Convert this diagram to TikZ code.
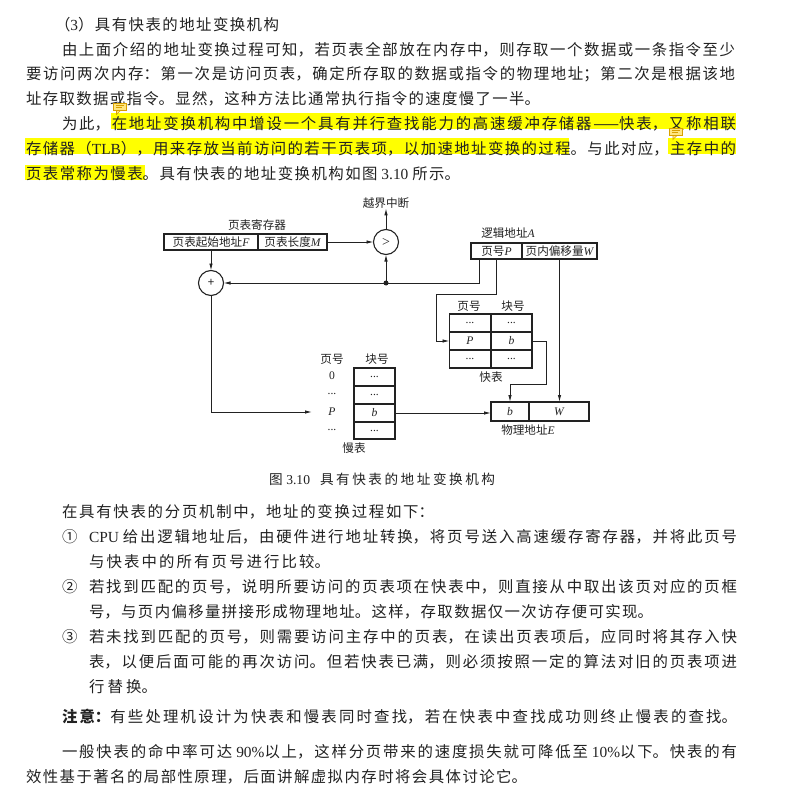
\documentclass[tikz,border=0pt]{standalone}
\usepackage{fontspec}
\usetikzlibrary{arrows.meta,calc}
\setmainfont{Noto Sans CJK SC}
\newfontfamily\latf{Liberation Serif}
\newcommand\lat[1]{{\latf #1}}
\newcommand\lit[1]{{\latf\itshape #1}}
\XeTeXlinebreaklocale "zh"
\XeTeXlinebreakskip=0pt plus 6pt
\definecolor{ink}{HTML}{222222}
\definecolor{hl}{HTML}{FFFF00}
\definecolor{bubfill}{HTML}{FFE680}
\definecolor{bubline}{HTML}{D8A000}
\tikzset{
  txt/.style={anchor=west,inner sep=0pt,outer sep=0pt,text=ink,yshift=-0.8pt,font=\fontsize{15.4}{18}\selectfont},
  lbl/.style={inner sep=0pt,outer sep=0pt,text=ink,font=\fontsize{11.6}{13}\selectfont},
  cell/.style={draw=ink,line width=1.1pt,inner sep=0pt,outer sep=0pt,text=ink,font=\fontsize{11.6}{13}\selectfont},
  tcell/.style={cell,minimum width=41pt,minimum height=18pt},
  rnd/.style={cell,circle,minimum size=25pt},
  conn/.style={draw=ink,line width=0.9pt},
  arr/.style={conn,-{Latex[length=7pt,width=3.5pt]}},
  mark hl/.style={fill=hl,draw=none},
  bubble/.style={fill=bubfill,draw=bubline,line width=0.6pt},
}
% name, x0, x1, y, text: one justified text line
\newcommand\tl[5]{\node[txt] (#1) at (#2,#4) {\parbox{\dimexpr#3pt-#2pt\relax}{\tolerance=10000\hbadness=10000\parindent=0pt\parfillskip=0pt #5}};}
\newcommand\bub[2]{\path[bubble] (#1-6.5,#2-5) rectangle (#1+6.5,#2+2.5);
  \path[bubble] (#1-3,#2+2.5) -- (#1-3,#2+6.5) -- (#1+1,#2+2.5) -- cycle;
  \draw[bubline,line width=0.5pt] (#1-4,#2-3) -- (#1+4,#2-3) (#1-4,#2-0.7) -- (#1+2,#2-0.7);}
\begin{document}
\begin{tikzpicture}[x=1pt,y=-1pt]
\useasboundingbox (0,0) rectangle (788,789);
\fill[white] (0,0) rectangle (788,789);
% highlights
\fill[mark hl] (111,113) rectangle (736,129);
\fill[mark hl] (25,138) rectangle (569,154);
\fill[mark hl] (668,138) rectangle (736,154);
\fill[mark hl] (25,165) rectangle (145,180);
% text above
\tl{a0}{55}{279}{24}{（\lat{3}）具有快表的地址变换机构}
\tl{a1}{62}{735}{49}{由上面介绍的地址变换过程可知，若页表全部放在内存中，则存取一个数据或一条指令至少}
\tl{a2}{26}{735}{73}{要访问两次内存：第一次是访问页表，确定所存取的数据或指令的物理地址；第二次是根据该地}
\tl{a3}{26}{540}{98}{址存取数据或指令。显然，这种方法比通常执行指令的速度慢了一半。}
\tl{a4}{62}{736}{123}{为此，在地址变换机构中增设一个具有并行查找能力的高速缓冲存储器——快表，又称相联}
\tl{a5}{26}{736}{148}{存储器（\lat{TLB}），用来存放当前访问的若干页表项，以加速地址变换的过程。与此对应，主存中的}
\tl{a6}{26}{460}{173}{页表常称为慢表。具有快表的地址变换机构如图 \lat{3.10} 所示。}
\bub{119.5}{108}
\bub{676}{133}
% register
\node[lbl] (regt) at (257,225) {页表寄存器};
\node[cell,minimum width=94pt,minimum height=16pt] (rF) at (211,242) {页表起始地址\lit{F}};
\node[cell,minimum width=69pt,minimum height=16pt] (rM) at (292.5,242) {页表长度\lit{M}};
\node[rnd,font=\fontsize{14}{14}\selectfont] (gt) at (386,242) {\lat{>}};
\node[rnd] (plus) at (211,283) {+};
\node[lbl] (over) at (386,203) {越界中断};
\node[circle,fill=ink,inner sep=0pt,minimum size=5pt] (jn) at (386,283) {};
% logical address
\node[lbl] (lat) at (508,233) {逻辑地址\lit{A}};
\node[cell,minimum width=51pt,minimum height=16pt] (pP) at (496.5,251) {页号\lit{P}};
\node[cell,minimum width=75pt,minimum height=16pt] (pW) at (559.5,251) {页内偏移量\lit{W}};
% fast table
\node[lbl] (qh1) at (469,306) {页号};
\node[lbl] (qh2) at (513,306) {块号};
\node[tcell] (q11) at (470,323) {\lat{...}};
\node[tcell] (q12) at (511.5,323) {\lat{...}};
\node[tcell] (qP) at (470,341) {\lit{P}};
\node[tcell] (qb) at (511.5,341) {\lit{b}};
\node[tcell] (q31) at (470,359) {\lat{...}};
\node[tcell] (q32) at (511.5,359) {\lat{...}};
\node[lbl] (qt) at (491,377) {快表};
% physical address
\node[cell,minimum width=38pt,minimum height=19pt] (eb) at (510,411.5) {\lit{b}};
\node[cell,minimum width=60pt,minimum height=19pt] (eW) at (559,411.5) {\lit{W}};
\node[lbl] (et) at (528,430) {物理地址\lit{E}};
% slow table
\node[lbl] (sh1) at (332,359) {页号};
\node[lbl] (sh2) at (377,359) {块号};
\node[lbl] (s0) at (332,376) {\lat{0}};
\node[lbl] (sd1) at (332,394) {\lat{...}};
\node[lbl,minimum width=40pt] (sP) at (332,412) {\lit{P}};
\node[lbl] (sd2) at (332,430) {\lat{...}};
\node[tcell,minimum height=18pt] (s1) at (374.5,377) {\lat{...}};
\node[tcell,minimum height=18pt] (s2) at (374.5,395) {\lat{...}};
\node[tcell,minimum height=18pt] (sb) at (374.5,413) {\lit{b}};
\node[tcell,minimum height=17pt] (s4) at (374.5,430.5) {\lat{...}};
\node[lbl] (st) at (354,448) {慢表};
% connectors
\coordinate (k1) at (436,294);
\coordinate (k2) at (546,384);
\draw[arr] (rF.south) -- (plus.north);
\draw[arr] (rM.east) -- (gt.west);
\draw[arr] (gt.north) -- (over.south);
\draw[arr] (jn.center) -- (gt.south);
\draw[arr] ([xshift=-17.5pt]pP.south) |- (plus.east);
\draw[arr] (pP.south) |- (k1) |- (qP.west);
\draw[arr] (qb.east) -| (k2) -| (eb.north);
\draw[arr] (pW.south) -- (pW.south |- eW.north);
\draw[arr] (plus.south) |- (sP.west);
\draw[arr] (sb.east) -- (sb.east -| eb.west);
% caption
\tl{cap}{269}{495}{478}{\fontsize{13.6}{16}\selectfont 图 \lat{3.10}\hspace{10pt}具有快表的地址变换机构}
% text below
\tl{b0}{62}{434}{511}{在具有快表的分页机制中，地址的变换过程如下：}
\node[txt] (n1) at (62,536) {①};
\tl{b1}{89}{737}{536}{\lat{CPU} 给出逻辑地址后，由硬件进行地址转换，将页号送入高速缓存寄存器，并将此页号}
\tl{b2}{89}{330}{561}{与快表中的所有页号进行比较。}
\node[txt] (n2) at (62,586) {②};
\tl{b3}{89}{737}{586}{若找到匹配的页号，说明所要访问的页表项在快表中，则直接从中取出该页对应的页框}
\tl{b4}{89}{653}{611}{号，与页内偏移量拼接形成物理地址。这样，存取数据仅一次访存便可实现。}
\node[txt] (n3) at (62,636) {③};
\tl{b5}{89}{737}{636}{若未找到匹配的页号，则需要访问主存中的页表，在读出页表项后，应同时将其存入快}
\tl{b6}{89}{737}{661}{表，以便后面可能的再次访问。但若快表已满，则必须按照一定的算法对旧的页表项进}
\tl{b7}{89}{157}{686}{行替换。}
\tl{b8}{62}{737}{716}{{\bfseries 注意：}有些处理机设计为快表和慢表同时查找，若在快表中查找成功则终止慢表的查找。}
\tl{b9}{62}{737}{751}{一般快表的命中率可达 \lat{90\%}以上，这样分页带来的速度损失就可降低至 \lat{10\%}以下。快表的有}
\tl{b10}{26}{527}{776}{效性基于著名的局部性原理，后面讲解虚拟内存时将会具体讨论它。}
\end{tikzpicture}
\end{document}
